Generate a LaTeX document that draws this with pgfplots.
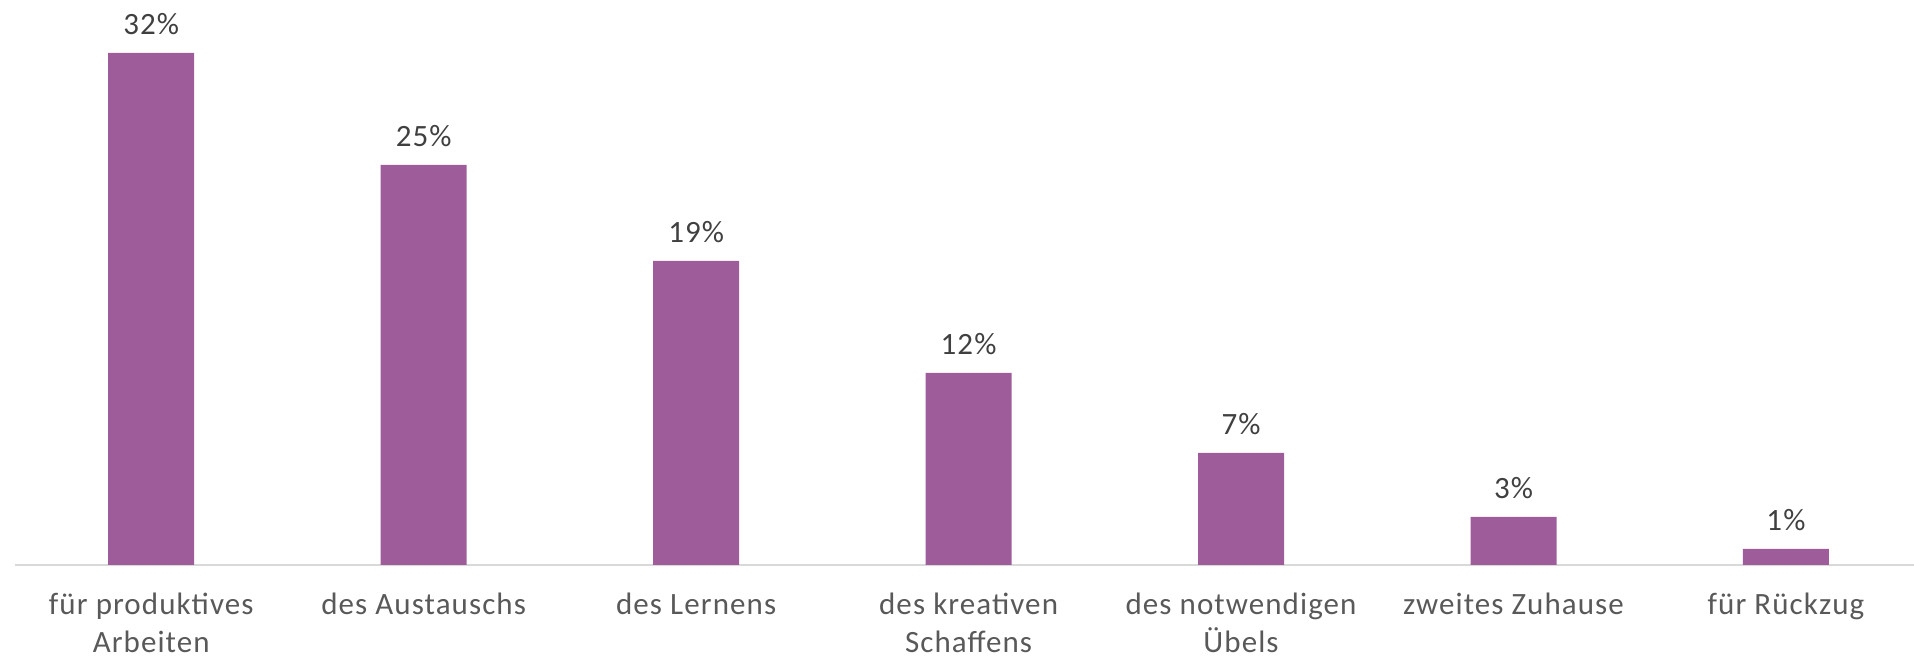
\documentclass[border=0pt]{standalone}
\usepackage{fontspec}
\setmainfont{Carlito}
\newfontfamily\spaced[LetterSpace=3.5]{Carlito}
\usepackage{pgfplots}
\pgfplotsset{compat=1.18}
\definecolor{barc}{HTML}{9E5D9A}
\definecolor{txt}{HTML}{595959}
\definecolor{vtxt}{HTML}{404040}
\definecolor{axc}{HTML}{D9D9D9}
\begin{document}
\begin{tikzpicture}
\begin{axis}[
  scale only axis,
  width=949.5pt, height=272pt,
  xmin=-0.5, xmax=6.47,
  ymin=0, ymax=34,
  hide y axis,
  axis x line*=bottom,
  x axis line style={axc, line width=1.2pt},
  xtick={0,1,2,3,4,5,6},
  xticklabels={{für produktives\\Arbeiten},{des Austauschs},{des Lernens},{des kreativen\\Schaffens},{des notwendigen\\Übels},{zweites Zuhause},{für Rückzug}},
  xticklabel style={align=center, font=\spaced\fontsize{15.5}{19}\selectfont, text=txt, anchor=north, yshift=-10.5pt},
  major tick length=0pt,
  /pgf/number format/assume math mode=true,
  clip=false,
  ybar, bar width=43pt,
  nodes near coords={\pgfmathprintnumber{\pgfplotspointmeta}\%},
  nodes near coords style={anchor=base, inner sep=0pt, yshift=9pt, font=\spaced\fontsize{15.5}{17}\selectfont, text=vtxt},
]
\addplot[fill=barc, draw=none] coordinates {(0,32) (1,25) (2,19) (3,12) (4,7) (5,3) (6,1)};
\end{axis}
\pgfresetboundingbox
\path ([shift={(-7.5pt,-48pt)}]current axis.south west) rectangle ([shift={(0pt,10.5pt)}]current axis.north east);
\end{tikzpicture}
\end{document}
